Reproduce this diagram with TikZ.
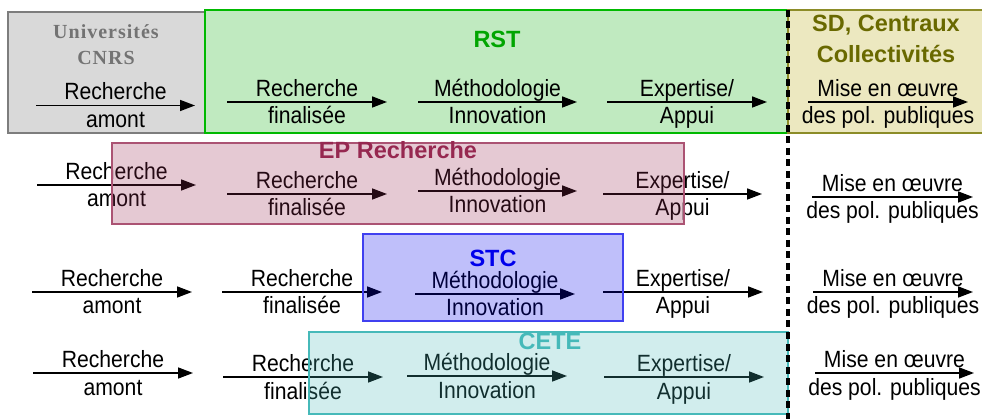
\documentclass[tikz,border=0pt]{standalone}
\usepackage{fontspec}
\setmainfont{Liberation Sans}[FakeStretch=0.9]
\newfontfamily\titlefont{Liberation Sans}
\newfontfamily\headserif{Liberation Serif}[LetterSpace=5]
\usetikzlibrary{arrows.meta,calc}

\definecolor{univgray}{RGB}{115,115,115}
\definecolor{univfill}{RGB}{217,217,217}
\definecolor{univline}{RGB}{125,125,125}
\definecolor{rstgreen}{RGB}{0,165,0}
\definecolor{rstfill}{RGB}{192,234,192}
\definecolor{rstline}{RGB}{0,185,0}
\definecolor{sdolive}{RGB}{105,105,0}
\definecolor{sdfill}{RGB}{236,232,192}
\definecolor{sdline}{RGB}{140,140,40}
\definecolor{epcol}{RGB}{150,40,80}
\definecolor{stccol}{RGB}{0,0,235}
\definecolor{cetecol}{RGB}{70,185,185}

\tikzset{
  flow/.style={line width=1.6pt, -{Triangle[length=15pt,width=11pt]}},
  txt/.style={font=\fontsize{23.5}{28}\selectfont, inner sep=0pt, anchor=base},
  title/.style={font=\titlefont\fontsize{23.5}{28}\selectfont\bfseries, inner sep=0pt, anchor=base},
  serifhead/.style={font=\headserif\fontsize{20}{24}\selectfont\bfseries, text=univgray, inner sep=0pt, anchor=base},
  zone/.style={line width=1.1pt},
  veil/.style={line width=1.3pt, fill opacity=0.25},
  divider/.style={line width=3.3pt, dash pattern=on 7pt off 4.5pt},
}

% one stage: arrow between two named coordinates, label above and below
\newcommand\flowstep[6]{%
  \coordinate (#1-s) at (#2,#4);
  \coordinate (#1-e) at (#3,#4);
  \draw[flow] (#1-s) -- (#1-e);
  \node[txt] (#1-top) at ($(#1-s)!0.5!(#1-e)+(0,-5.5)$) {#5};
  \node[txt] (#1-bot) at ($(#1-s)!0.5!(#1-e)+(0,22)$) {#6};
}

\begin{document}
\begin{tikzpicture}[x=1pt,y=-1pt]
\useasboundingbox (0,0) rectangle (982,419);

% top band: organisations
\draw[zone, draw=univline, fill=univfill] (8,12) rectangle (205,133);
\draw[zone, draw=rstline, fill=rstfill] (205,10) rectangle (788,133);
\draw[zone, draw=sdline, fill=sdfill] (788,10) rectangle (984,133);

\node[serifhead] (univ) at (106,39) {Universités};
\node[serifhead] (cnrs) at (106,65) {CNRS};
\node[title, text=rstgreen] (rst) at (497,48) {RST};
\node[title, text=sdolive] (sd) at (886,32) {SD, Centraux};
\node[title, text=sdolive] (coll) at (886,63) {Collectivités};

% row 1
\flowstep{ra}{36}{195}{105.5}{Recherche}{amont}
\flowstep{rb}{227}{387}{102}{Recherche}{finalisée}
\flowstep{rc}{418}{577}{102}{Méthodologie}{Innovation}
\flowstep{rd}{607}{767}{102}{Expertise/}{Appui}
\flowstep{re}{808}{968}{102}{Mise en œuvre}{des pol. publiques}

% row 2
\flowstep{pa}{37}{196}{185}{Recherche}{amont}
\flowstep{pb}{227}{387}{194}{Recherche}{finalisée}
\flowstep{pc}{418}{577}{191}{Méthodologie}{Innovation}
\flowstep{pd}{603}{762}{194}{Expertise/}{Appui}
\flowstep{pe}{812}{973}{197}{Mise en œuvre}{des pol. publiques}

% row 3
\flowstep{sa}{32}{192}{292}{Recherche}{amont}
\flowstep{sb}{222}{382}{292}{Recherche}{finalisée}
\flowstep{sc}{415}{575}{294}{Méthodologie}{Innovation}
\flowstep{sd}{603}{763}{292}{Expertise/}{Appui}
\flowstep{se}{813}{973}{292}{Mise en œuvre}{des pol. publiques}

% row 4
\flowstep{ca}{33}{193}{373}{Recherche}{amont}
\flowstep{cb}{223}{383}{377}{Recherche}{finalisée}
\flowstep{cc}{407}{567}{376}{Méthodologie}{Innovation}
\flowstep{cd}{604}{764}{377}{Expertise/}{Appui}
\flowstep{ce}{815}{974}{373}{Mise en œuvre}{des pol. publiques}

% translucent scopes of the other bodies
\draw[veil, draw=epcol!80, fill=epcol] (112,143) rectangle (684,224);
\draw[veil, draw=stccol!75, fill=stccol] (363,234) rectangle (623,321);
\draw[veil, draw=cetecol, fill=cetecol] (309,332) rectangle (788,414);

\node[title, text=epcol] (ep) at (398,159) {EP Recherche};
\node[title, text=stccol] (stc) at (493,267) {STC};
\node[title, text=cetecol] (cete) at (550,349) {CETE};

% boundary between research and public policy
\coordinate (divtop) at (788,10);
\coordinate (divbot) at (788,419);
\draw[divider] (divtop) -- (divbot);
\end{tikzpicture}
\end{document}
